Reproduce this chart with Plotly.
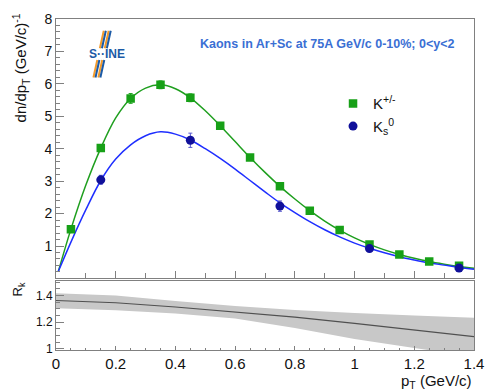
import plotly.graph_objects as go

# ---------------- data ----------------
pt_kpm = [0.05, 0.15, 0.25, 0.35, 0.45, 0.55, 0.65, 0.75, 0.85, 0.95, 1.05, 1.15, 1.25, 1.35]
y_kpm = [1.52, 4.02, 5.55, 5.97, 5.57, 4.71, 3.73, 2.84, 2.09, 1.49, 1.05, 0.74, 0.52, 0.39]
err_kpm = [0.08, 0.08, 0.15, 0.12, 0.12, 0.08, 0.07, 0.06, 0.05, 0.04, 0.03, 0.03, 0.02, 0.02]

pt_k0 = [0.15, 0.45, 0.75, 1.05, 1.35]
y_k0 = [3.04, 4.26, 2.23, 0.92, 0.32]
err_k0 = [0.14, 0.22, 0.16, 0.06, 0.03]

fit_pt = [0.008, 0.05, 0.10, 0.15, 0.20, 0.25, 0.30, 0.35, 0.40, 0.45, 0.50, 0.55, 0.60,
          0.65, 0.70, 0.75, 0.80, 0.85, 0.90, 0.95, 1.00, 1.05, 1.10, 1.15, 1.20, 1.25,
          1.30, 1.35, 1.40]
fit_kpm = [0.22, 1.52, 2.88, 4.02, 4.95, 5.55, 5.87, 5.97, 5.85, 5.57, 5.17, 4.71, 4.22,
           3.73, 3.27, 2.84, 2.45, 2.09, 1.77, 1.49, 1.25, 1.05, 0.88, 0.74, 0.62, 0.52,
           0.44, 0.37, 0.31]
fit_k0 = [0.22, 1.12, 2.12, 3.02, 3.68, 4.12, 4.40, 4.52, 4.45, 4.27, 4.00, 3.70, 3.37,
          3.02, 2.67, 2.33, 2.03, 1.75, 1.50, 1.28, 1.09, 0.93, 0.79, 0.67, 0.57, 0.48,
          0.41, 0.34, 0.28]

rk_pt = [0.0, 0.2, 0.4, 0.6, 0.8, 1.0, 1.2, 1.4]
rk_val = [1.363, 1.346, 1.314, 1.275, 1.238, 1.19, 1.14, 1.09]
rk_up = [1.417, 1.400, 1.360, 1.322, 1.292, 1.268, 1.250, 1.233]
rk_lo = [1.305, 1.290, 1.265, 1.227, 1.155, 1.072, 1.005, 0.94]

x_ticks = [0, 0.2, 0.4, 0.6, 0.8, 1.0, 1.2, 1.4]
x_ticklabels = ["0", "0.2", "0.4", "0.6", "0.8", "1", "1.2", "1.4"]
y_ticks = [1, 2, 3, 4, 5, 6, 7, 8]
rk_ticks = [1.0, 1.2, 1.4]
rk_ticklabels = ["1", "1.2", "1.4"]

title_text = "Kaons in Ar+Sc at 75A GeV/c 0-10%; 0<y<2"

# ---------------- geometry helpers ----------------
W, H = 495, 392
L, R, T, B = 56, 12, 11, 42
PW, PH = W - L - R, H - T - B


def px(x):
    return (x - L) / PW


def py(y):
    return (H - B - y) / PH


GREEN = "#17a017"
GREEN_LINE = "#1f9f1f"
BLUE_MK = "#10109a"
BLUE_LINE = "#1f2fff"
FONT = "Liberation Sans, Arial, sans-serif"

fig = go.Figure()

# fits
fig.add_trace(go.Scatter(x=fit_pt, y=fit_kpm, mode="lines", line=dict(color=GREEN_LINE, width=1.5, shape="spline"),
                         showlegend=False, xaxis="x", yaxis="y"))
fig.add_trace(go.Scatter(x=fit_pt, y=fit_k0, mode="lines", line=dict(color=BLUE_LINE, width=1.5, shape="spline"),
                         showlegend=False, xaxis="x", yaxis="y"))
# data
fig.add_trace(go.Scatter(x=pt_kpm, y=y_kpm, mode="markers", name="K<sup>+/-</sup>",
                         marker=dict(symbol="square", size=8.5, color=GREEN),
                         error_y=dict(type="data", array=err_kpm, color=GREEN, thickness=1, width=2),
                         xaxis="x", yaxis="y"))
fig.add_trace(go.Scatter(x=pt_k0, y=y_k0, mode="markers", name="K<sub>s</sub><sup>0</sup>",
                         marker=dict(symbol="circle", size=9, color=BLUE_MK),
                         error_y=dict(type="data", array=err_k0, color="#5a5ad0", thickness=1, width=2),
                         xaxis="x", yaxis="y"))

# ratio band
fig.add_trace(go.Scatter(x=rk_pt, y=rk_lo, mode="lines", line=dict(width=0, color="#c8c8c8"),
                         showlegend=False, xaxis="x2", yaxis="y2"))
fig.add_trace(go.Scatter(x=rk_pt, y=rk_up, mode="lines", line=dict(width=0, color="#c8c8c8"),
                         fill="tonexty", fillcolor="#c8c8c8", showlegend=False, xaxis="x2", yaxis="y2"))
fig.add_trace(go.Scatter(x=rk_pt, y=rk_val, mode="lines", line=dict(width=1.2, color="#505050"),
                         showlegend=False, xaxis="x2", yaxis="y2"))

axis_common = dict(showline=True, linecolor="#808080", linewidth=1, mirror=True, ticks="inside",
                   tickcolor="#808080", showgrid=False, zeroline=False,
                   tickfont=dict(family=FONT, size=15, color="#111"))

top_dom = [py(276.7), 1]
bot_dom = [0, py(279.3)]

fig.update_layout(
    width=W, height=H, margin=dict(l=L, r=R, t=T, b=B),
    paper_bgcolor="white", plot_bgcolor="white",
    font=dict(family=FONT, color="#111"),
    xaxis=dict(**axis_common, domain=[0, 1], range=[0, 1.4], anchor="y", showticklabels=False,
               tickmode="linear", tick0=0, dtick=0.2, ticklen=7,
               minor=dict(dtick=0.1, tick0=0, ticklen=5, ticks="inside", tickcolor="#808080")),
    yaxis=dict(**axis_common, domain=top_dom, range=[0, 8], anchor="x",
               tickmode="array", tickvals=y_ticks, ticklen=8,
               minor=dict(dtick=0.2, tick0=0, ticklen=4, ticks="inside", tickcolor="#808080")),
    xaxis2=dict(**axis_common, domain=[0, 1], range=[0, 1.4], anchor="y2",
                tickmode="array", tickvals=x_ticks, ticktext=x_ticklabels, ticklen=4,
                minor=dict(dtick=0.05, tick0=0, ticklen=2.5, ticks="inside", tickcolor="#808080")),
    yaxis2=dict(**axis_common, domain=bot_dom, range=[0.99, 1.51], anchor="x2",
                tickmode="array", tickvals=rk_ticks, ticktext=rk_ticklabels, ticklen=8,
                minor=dict(dtick=0.05, tick0=0, ticklen=4, ticks="inside", tickcolor="#808080")),
    legend=dict(x=px(339), y=py(81), xanchor="left", yanchor="top", bgcolor="rgba(0,0,0,0)",
                font=dict(family=FONT, size=15, color="#111"), itemwidth=30, tracegroupgap=0,
                traceorder="normal", itemsizing="trace"),
)
fig.layout.yaxis.tickfont = dict(family=FONT, size=14, color="#111")
fig.layout.yaxis2.tickfont = dict(family=FONT, size=12, color="#111")

annotations = [
    dict(x=px(465), y=py(37), xref="paper", yref="paper", text="<b>" + title_text.replace("<", "&lt;") + "</b>",
         showarrow=False, xanchor="right", yanchor="middle",
         font=dict(family=FONT, size=12.5, color="#3a6fd4")),
    dict(x=px(20), y=py(3), xref="paper", yref="paper", text="dn/dp<sub>T</sub> (GeV/c)<sup>-1</sup>",
         textangle=-90, showarrow=False, xanchor="center", yanchor="top",
         font=dict(family=FONT, size=15, color="#111")),
    dict(x=px(18), y=py(279), xref="paper", yref="paper", text="R<sub>k</sub>",
         textangle=-90, showarrow=False, xanchor="center", yanchor="top",
         font=dict(family=FONT, size=13, color="#111")),
    dict(x=px(483), y=py(382), xref="paper", yref="paper", text="p<sub>T</sub> (GeV/c)",
         showarrow=False, xanchor="right", yanchor="middle",
         font=dict(family=FONT, size=15, color="#111")),
    dict(x=px(108), y=py(47), xref="paper", yref="paper", text="<b>S\u00b7\u00b7INE</b>",
         showarrow=False, xanchor="center", yanchor="middle",
         font=dict(family=FONT, size=12, color="#1b5aa6")),
]

# logo stripes (decoration)
shapes = []
for dx in (0, 5):
    for (y0, y1) in ((23, 41), (53, 71)):
        def xs(yv):
            return 106 + dx - (yv - 23) * 0.22
        shapes.append(dict(type="line", xref="paper", yref="paper",
                           x0=px(xs(y0) - 1.2), y0=py(y0), x1=px(xs(y1) - 1.2), y1=py(y1),
                           line=dict(color="#f39a2a", width=2)))
        shapes.append(dict(type="line", xref="paper", yref="paper",
                           x0=px(xs(y0) + 0.9), y0=py(y0), x1=px(xs(y1) + 0.9), y1=py(y1),
                           line=dict(color="#1b5aa6", width=2)))

fig.update_layout(annotations=annotations, shapes=shapes)

fig.write_html("out.html")
